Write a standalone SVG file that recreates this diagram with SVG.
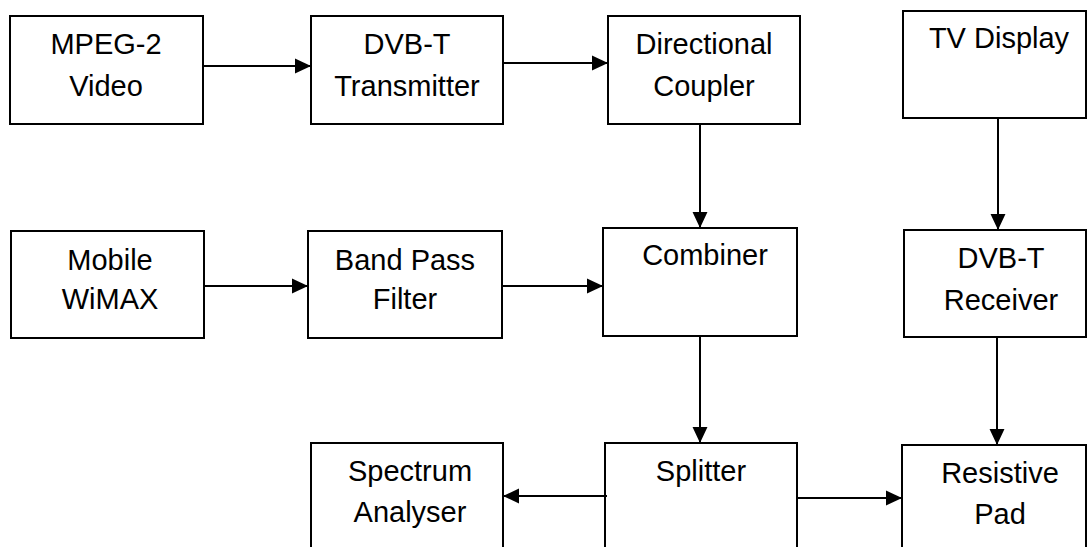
<svg xmlns="http://www.w3.org/2000/svg" width="1088" height="547" viewBox="0 0 1088 547">
<style>
.box{fill:#fff;stroke:#000;stroke-width:2}
.lbl{font-family:"Liberation Sans",Arial,sans-serif;font-size:29px;fill:#000;text-anchor:middle}
.con{stroke:#000;stroke-width:2;fill:none;marker-end:url(#ah)}
</style>
<defs>
<marker id="ah" markerUnits="userSpaceOnUse" markerWidth="16" markerHeight="16" viewBox="0 0 15 14" refX="15" refY="7" orient="auto">
<path d="M0,0 L15,7 L0,14 Z" fill="#000"/>
</marker>
</defs>
<rect width="1088" height="547" fill="#fff"/>
<g id="mpeg2"><rect class="box" x="10" y="16" width="193" height="108"/><text class="lbl" x="106" y="54">MPEG-2</text><text class="lbl" x="106" y="96">Video</text></g>
<g id="dvbt-tx"><rect class="box" x="311" y="16" width="192" height="108"/><text class="lbl" x="407" y="54">DVB-T</text><text class="lbl" x="407" y="96">Transmitter</text></g>
<g id="coupler"><rect class="box" x="608" y="16" width="192" height="108"/><text class="lbl" x="704" y="54">Directional</text><text class="lbl" x="704" y="96">Coupler</text></g>
<g id="tv"><rect class="box" x="903" y="11" width="183" height="107"/><text class="lbl" x="999" y="48">TV Display</text></g>
<g id="wimax"><rect class="box" x="11" y="231" width="193" height="107"/><text class="lbl" x="110" y="270">Mobile</text><text class="lbl" x="110" y="309">WiMAX</text></g>
<g id="bpf"><rect class="box" x="308" y="231" width="194" height="107"/><text class="lbl" x="405" y="270">Band Pass</text><text class="lbl" x="405" y="309">Filter</text></g>
<g id="combiner"><rect class="box" x="603" y="228" width="194" height="108"/><text class="lbl" x="705" y="265">Combiner</text></g>
<g id="dvbt-rx"><rect class="box" x="904" y="230" width="182" height="107"/><text class="lbl" x="1001" y="268">DVB-T</text><text class="lbl" x="1001" y="310">Receiver</text></g>
<g id="spectrum"><rect class="box" x="311" y="443" width="192" height="120"/><text class="lbl" x="410" y="481">Spectrum</text><text class="lbl" x="410" y="522">Analyser</text></g>
<g id="splitter"><rect class="box" x="605" y="443" width="192" height="120"/><text class="lbl" x="701" y="481">Splitter</text></g>
<g id="pad"><rect class="box" x="902" y="445" width="184" height="120"/><text class="lbl" x="1000" y="483">Resistive</text><text class="lbl" x="1000" y="524">Pad</text></g>
<g id="connectors">
<path class="con" d="M203,66 H311"/>
<path class="con" d="M503,63 H608"/>
<path class="con" d="M700,124 V228"/>
<path class="con" d="M998,118 V230"/>
<path class="con" d="M204,286 H308"/>
<path class="con" d="M502,286 H603"/>
<path class="con" d="M700,336 V443"/>
<path class="con" d="M997,337 V445"/>
<path class="con" d="M607,496 H503"/>
<path class="con" d="M797,498 H902"/>
</g>
</svg>
